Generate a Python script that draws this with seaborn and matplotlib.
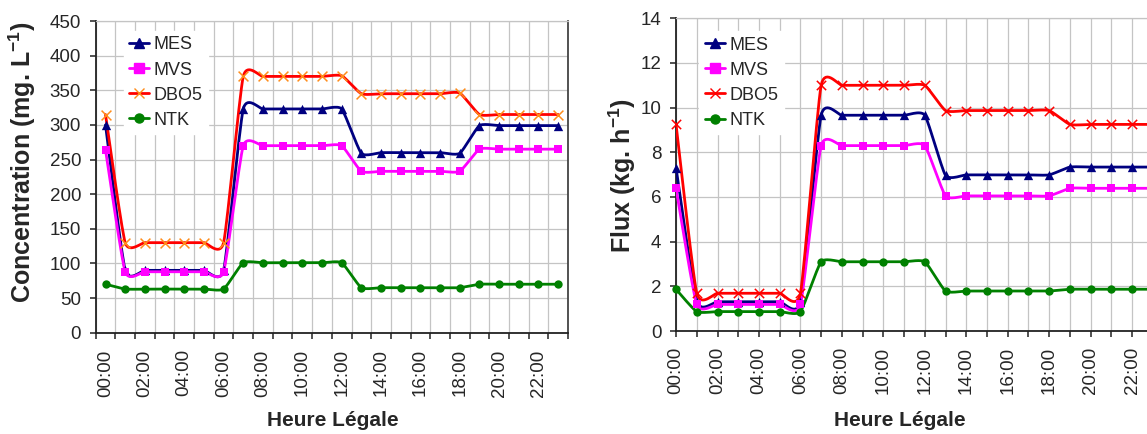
import numpy as np
import pandas as pd
import matplotlib
matplotlib.use("Agg")
import matplotlib.pyplot as plt
import seaborn as sns
from matplotlib.lines import Line2D

# hours of the day (categories)
hours = [f"{h:02d}:00" for h in range(24)]

# concentrations (mg/L)
conc_mes = [300, 90, 90, 90, 90, 90, 90, 323, 323, 323, 323, 323, 323,
            259, 260, 260, 260, 260, 259, 299, 299, 299, 299, 299]
conc_mvs = [264, 88, 88, 88, 88, 88, 88, 270, 270, 270, 270, 270, 270,
            233, 233, 233, 233, 233, 233, 265, 265, 265, 265, 265]
conc_dbo5 = [315, 130, 130, 130, 130, 130, 130, 370, 370, 370, 370, 370, 371,
             345, 345, 345, 345, 345, 346, 315, 315, 315, 315, 315]
conc_ntk = [70, 63, 63, 63, 63, 63, 63, 101, 101, 101, 101, 101, 101,
            65, 65, 65, 65, 65, 65, 70, 70, 70, 70, 70]

# flux (kg/h)
flux_mes = [7.31, 1.31, 1.31, 1.31, 1.31, 1.31, 1.31, 9.66, 9.66, 9.66, 9.66, 9.66, 9.66,
            6.97, 6.99, 6.99, 6.99, 6.99, 6.99, 7.34, 7.34, 7.34, 7.34, 7.34]
flux_mvs = [6.39, 1.19, 1.19, 1.19, 1.19, 1.19, 1.19, 8.3, 8.3, 8.3, 8.3, 8.3, 8.3,
            6.05, 6.05, 6.05, 6.05, 6.05, 6.05, 6.39, 6.39, 6.39, 6.39, 6.39]
flux_dbo5 = [9.25, 1.69, 1.69, 1.69, 1.69, 1.69, 1.69, 11.0, 11.0, 11.0, 11.0, 11.0, 11.0,
             9.87, 9.87, 9.87, 9.87, 9.87, 9.87, 9.25, 9.25, 9.25, 9.25, 9.25]
flux_ntk = [1.87, 0.87, 0.87, 0.87, 0.87, 0.87, 0.87, 3.1, 3.1, 3.1, 3.1, 3.1, 3.1,
            1.79, 1.79, 1.79, 1.79, 1.79, 1.79, 1.87, 1.87, 1.87, 1.87, 1.87]

names = ["MES", "MVS", "DBO5", "NTK"]

sns.set_theme(style="white")
plt.rcParams["font.family"] = ["Liberation Sans", "DejaVu Sans"]
plt.rcParams["mathtext.fontset"] = "custom"
plt.rcParams["mathtext.rm"] = "Liberation Sans"
plt.rcParams["mathtext.bf"] = "Liberation Sans:bold"


def smooth(y, n=16, k=0.09):
    # Excel-like smoothed line (bezier through the points)
    pts = np.column_stack([np.arange(len(y)), np.asarray(y, float)])
    out = []
    t = np.linspace(0, 1, n)[:, None]
    for i in range(len(pts) - 1):
        p0 = pts[max(i - 1, 0)]
        p1 = pts[i]
        p2 = pts[i + 1]
        p3 = pts[min(i + 2, len(pts) - 1)]
        c1 = p1 + (p2 - p0) * k
        c2 = p2 - (p3 - p1) * k
        seg = (1 - t) ** 3 * p1 + 3 * (1 - t) ** 2 * t * c1 + 3 * (1 - t) * t ** 2 * c2 + t ** 3 * p2
        out.append(seg if i == 0 else seg[1:])
    return np.vstack(out)


def draw(ax, series, styles, offset):
    x_idx = np.arange(len(hours))
    for vals, (lc, mk, mc, ms) in zip(series, styles):
        curve = smooth(vals)
        sns.lineplot(x=curve[:, 0] + offset, y=curve[:, 1], ax=ax, color=lc,
                     lw=2.0, sort=False, estimator=None, zorder=3)
        if mk == "x":
            sns.scatterplot(x=x_idx + offset, y=vals, ax=ax, marker="x", color=mc,
                            s=ms, linewidth=1.1, zorder=4, clip_on=False)
        else:
            sns.scatterplot(x=x_idx + offset, y=vals, ax=ax, marker=mk, color=mc,
                            s=ms, linewidth=0, zorder=4, clip_on=False)


def style_axes(ax, ymax, ystep):
    ax.set_ylim(0, ymax)
    ax.set_yticks(np.arange(0, ymax + ystep / 2, ystep))
    ax.grid(True, axis="both", color="#c4c4c4", lw=0.9)
    ax.set_axisbelow(True)
    for s in ["left", "bottom"]:
        ax.spines[s].set_color("#222222")
        ax.spines[s].set_linewidth(1.3)
    ax.spines["top"].set_color("#c4c4c4")
    ax.spines["top"].set_linewidth(0.9)
    ax.spines["right"].set_color("#444444")
    ax.spines["right"].set_linewidth(1.3)
    ax.tick_params(axis="y", which="major", left=True, length=4.5, width=1.1,
                   color="#222222", labelsize=13.5, pad=6)
    ax.tick_params(axis="x", which="major", bottom=True, length=4.5, width=1.1,
                   color="#222222", labelsize=13.5, pad=7)


fig = plt.figure(figsize=(11.47, 4.34), dpi=100)

# --- left: concentrations (points between tick marks) ---
ax1 = fig.add_axes([0.0834, 0.2334, 0.4118, 0.7182])
left_styles = [("#000080", "^", "#000080", 45),
               ("#ff00ff", "s", "#ff00ff", 40),
               ("#ff0000", "x", "#ff8c1a", 50),
               ("#008000", "o", "#008000", 36)]
draw(ax1, [conc_mes, conc_mvs, conc_dbo5, conc_ntk], left_styles, 0.5)
style_axes(ax1, 450, 50)
ax1.set_xlim(0, 24)
ax1.set_xticks(np.arange(0, 25))
ax1.set_xticklabels([])
ax1.set_xticks(np.arange(0, 24, 2) + 0.5, minor=True)
ax1.set_xticklabels(hours[::2], minor=True, rotation=90)
ax1.tick_params(axis="x", which="minor", length=0, labelsize=13.5, pad=12)
ax1.set_xlabel("Heure Légale", fontsize=15, fontweight="bold")
ax1.xaxis.set_label_coords(0.502, -0.251)
ax1.set_ylabel(r"Concentration (mg. L$^{\mathbf{-1}}$)", fontsize=18, fontweight="bold")
ax1.yaxis.set_label_coords(-0.123, 0.546)

handles1 = [Line2D([], [], color=lc, marker=mk, markerfacecolor=mc, markeredgecolor=mc,
                   markersize=6.5, lw=2.0) for lc, mk, mc, ms in left_styles]
ax1.legend(handles1, names, loc="upper left", bbox_to_anchor=(0.04, 0.997),
           frameon=True, fancybox=False, edgecolor="white", framealpha=1,
           fontsize=13, handlelength=1.1, handletextpad=0.25,
           labelspacing=0.45, borderpad=0.3)

# --- right: flux (points on tick marks), cropped at the figure edge ---
ax2 = fig.add_axes([0.5894, 0.2373, 0.4157, 0.7205])
right_styles = [("#000080", "^", "#000080", 45),
                ("#ff00ff", "s", "#ff00ff", 40),
                ("#ff0000", "x", "#ff0000", 45),
                ("#008000", "o", "#008000", 36)]
draw(ax2, [flux_mes, flux_mvs, flux_dbo5, flux_ntk], right_styles, 0)
style_axes(ax2, 14, 2)
ax2.set_xlim(0, 23)
ax2.set_xticks(np.arange(0, 24))
ax2.set_xticklabels([h if i % 2 == 0 else "" for i, h in enumerate(hours)], rotation=90)
ax2.set_xlabel("Heure Légale", fontsize=15, fontweight="bold")
ax2.xaxis.set_label_coords(0.47, -0.256)
ax2.set_ylabel(r"Flux (kg. h$^{\mathbf{-1}}$)", fontsize=18, fontweight="bold")
ax2.yaxis.set_label_coords(-0.08, 0.496)

handles2 = [Line2D([], [], color=lc, marker=mk, markerfacecolor=mc, markeredgecolor=mc,
                   markersize=6.5, lw=2.0) for lc, mk, mc, ms in right_styles]
ax2.legend(handles2, names, loc="upper left", bbox_to_anchor=(0.03, 0.988),
           frameon=True, fancybox=False, edgecolor="white", framealpha=1,
           fontsize=13, handlelength=1.1, handletextpad=0.25,
           labelspacing=0.45, borderpad=0.3)

fig.savefig("out.png", dpi=100)
